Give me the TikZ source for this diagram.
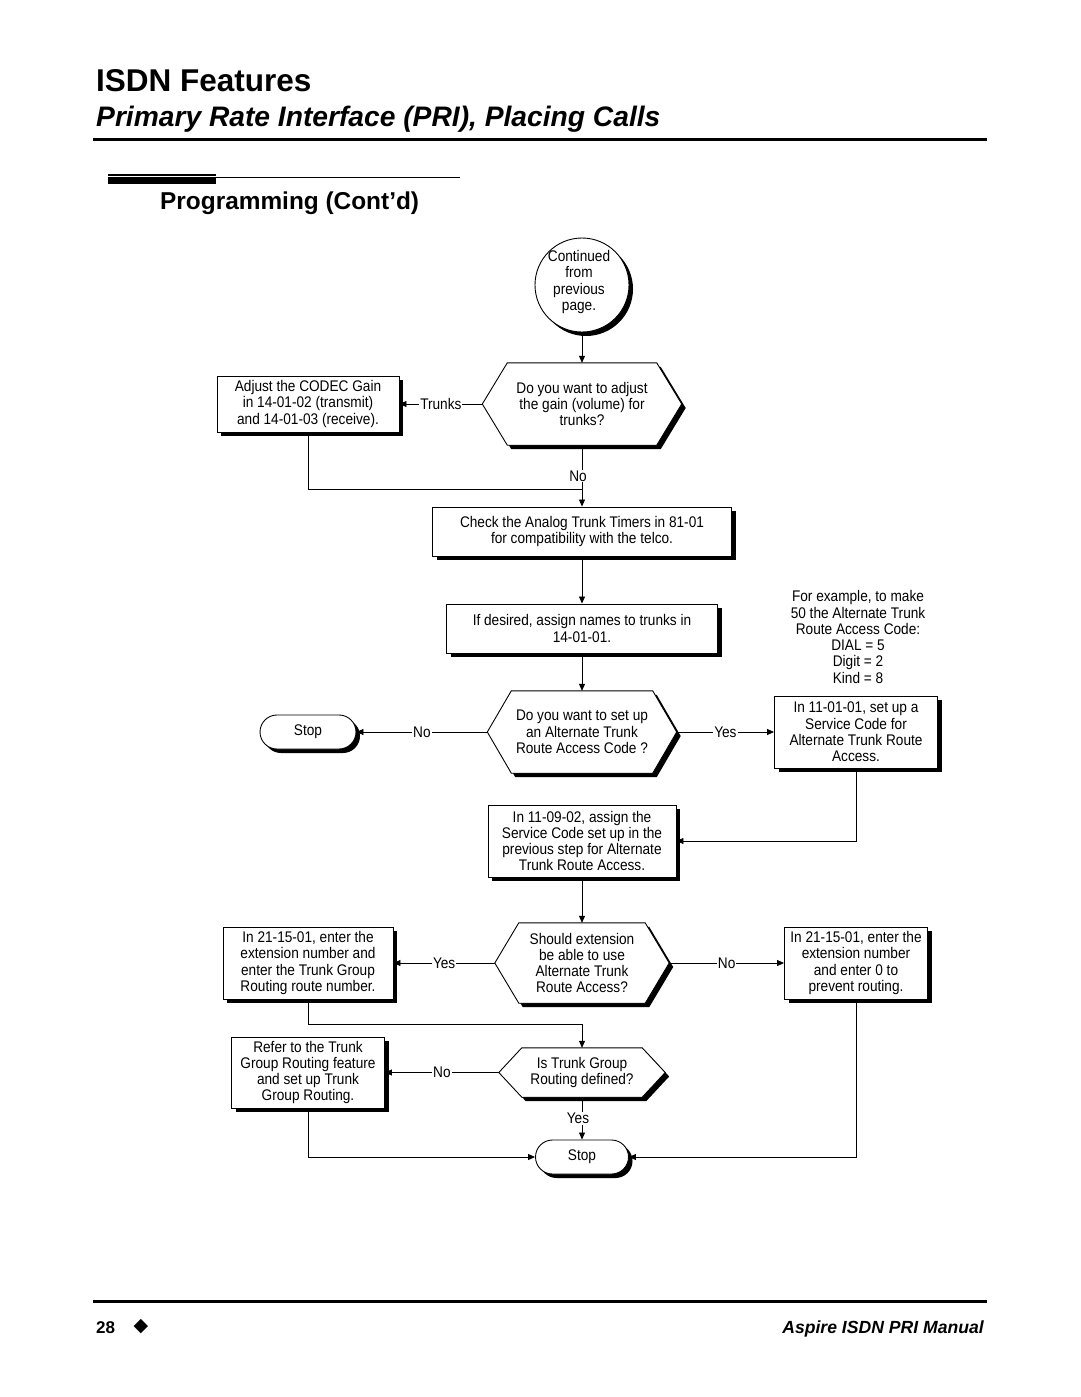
\documentclass[tikz,border=0pt]{standalone}
\usepackage{fontspec}
\setmainfont{Liberation Sans}
\newfontfamily\bodyfont[FakeStretch=0.886]{Liberation Sans}
\newfontfamily\dvsans{DejaVu Sans}
\usetikzlibrary{arrows.meta,shapes.misc,shadows,backgrounds}

\newcommand\hexoutline[3]{%
 ([shift={(#3pt,-#3pt)}]#1.west) --
 ([shift={(#2pt+#3pt,-#3pt)}]#1.north west) --
 ([shift={(-#2pt+#3pt,-#3pt)}]#1.north east) --
 ([shift={(#3pt,-#3pt)}]#1.east) --
 ([shift={(-#2pt+#3pt,-#3pt)}]#1.south east) --
 ([shift={(#2pt+#3pt,-#3pt)}]#1.south west) -- cycle}

\tikzset{
 every node/.style={font=\bodyfont\fontsize{15.4}{16.3}\selectfont},
 shd/.style={drop shadow={shadow xshift=4pt,shadow yshift=-4pt,fill=black,opacity=1}},
 box/.style={draw=black,line width=0.9pt,fill=white,rectangle,align=center,inner sep=0pt,shd},
 term/.style={draw=black,line width=0.9pt,fill=white,rounded rectangle,inner sep=0pt,shd},
 hexa/.style={rectangle,align=center,inner sep=0pt},
 conn/.style={line width=0.8pt,-{Triangle[length=7pt,width=6pt]}},
 plain/.style={line width=0.8pt},
 lbl/.style={fill=white,inner sep=1pt},
}

\begin{document}
\begin{tikzpicture}[x=1pt,y=-1pt]
\useasboundingbox (0,0) rectangle (1080,1397);

% header
\node[anchor=base west,inner sep=0pt,font=\rmfamily\fontsize{31.5}{36}\selectfont\bfseries] (title) at (96,91) {ISDN Features};
\node[anchor=base west,inner sep=0pt,font=\rmfamily\fontsize{28.2}{32}\selectfont\bfseries\itshape] (subtitle) at (96,126) {Primary Rate Interface (PRI), Placing Calls};
\fill (93,137.5) rectangle (987,140.5);
\fill (108,174) rectangle (216,176);
\fill (108,177.3) rectangle (216,184);
\draw[line width=0.9pt] (216,177.3) -- (460,177.3);
\node[anchor=base west,inner sep=0pt,font=\rmfamily\fontsize{24.4}{28}\selectfont\bfseries] (section) at (160,209) {Programming (Cont'd)};

% footer
\fill (93,1299.5) rectangle (987,1302.5);
\node[anchor=base west,inner sep=0pt,font=\rmfamily\fontsize{17}{20}\selectfont\bfseries] (pagenum) at (96,1333) {28};
\node[inner sep=0pt,font=\dvsans\fontsize{19}{20}\selectfont] (diam) at (141,1327) {◆};
\node[anchor=base east,inner sep=0pt,font=\rmfamily\fontsize{17.6}{20}\selectfont\bfseries\itshape] (manual) at (984,1333) {Aspire ISDN PRI Manual};

% flowchart nodes
\node[circle,draw=black,line width=0.9pt,fill=white,minimum size=94pt,inner sep=0pt,shd] (c1) at (582,285) {};
\node[align=center,inner sep=0pt] (c1t) at (579,282) {Continued\\from\\previous\\page.};

\node[hexa,minimum width=199pt,minimum height=82pt] (h1) at (582,404) {Do you want to adjust\\the gain (volume) for\\trunks?};
\node[box,minimum width=182pt,minimum height=56pt] (adj) at (308,404) {Adjust the CODEC Gain\\in 14-01-02 (transmit)\\and 14-01-03 (receive).};
\node[box,minimum width=299pt,minimum height=49pt] (chk) at (582,531.5) {Check the Analog Trunk Timers in 81-01\\for compatibility with the telco.};
\node[box,minimum width=271pt,minimum height=49pt] (nam) at (582,628.5) {If desired, assign names to trunks in\\14-01-01.};
\node[align=center,inner sep=0pt] (note) at (858,637) {For example, to make\\50 the Alternate Trunk\\Route Access Code:\\DIAL = 5\\Digit = 2\\Kind = 8};
\node[hexa,minimum width=189pt,minimum height=82pt] (h2) at (582,732) {Do you want to set up\\an Alternate Trunk\\Route Access Code ?};
\node[term,minimum width=96pt,minimum height=34pt] (stop1) at (308,732) {Stop};
\node[box,minimum width=163pt,minimum height=72pt] (svc) at (856,732) {In 11-01-01, set up a\\Service Code for\\Alternate Trunk Route\\Access.};
\node[box,minimum width=188pt,minimum height=72pt] (asg) at (582,841) {In 11-09-02, assign the\\Service Code set up in the\\previous step for Alternate\\Trunk Route Access.};
\node[hexa,minimum width=174pt,minimum height=80pt] (h3) at (582,963) {Should extension\\be able to use\\Alternate Trunk\\Route Access?};
\node[box,minimum width=170pt,minimum height=72pt] (ext) at (308,963) {In 21-15-01, enter the\\extension number and\\enter the Trunk Group\\Routing route number.};
\node[box,minimum width=143pt,minimum height=72pt] (prv) at (856,963) {In 21-15-01, enter the\\extension number\\and enter 0 to\\prevent routing.};
\node[hexa,minimum width=166pt,minimum height=49pt] (h4) at (582,1072.5) {Is Trunk Group\\Routing defined?};
\node[box,minimum width=153pt,minimum height=71pt] (ref) at (308,1072.5) {Refer to the Trunk\\Group Routing feature\\and set up Trunk\\Group Routing.};
\node[term,minimum width=93pt,minimum height=34pt] (stop2) at (582,1157) {Stop};

% hexagon outlines with shadows
\begin{scope}[on background layer]
\foreach \hn/\hd in {h1/25,h2/24,h3/24,h4/23}{
  \fill[black] \hexoutline{\hn}{\hd}{4};
  \filldraw[fill=white,draw=black,line width=0.9pt] \hexoutline{\hn}{\hd}{0};
}
\end{scope}

% junction coordinates
\coordinate (j1) at (582,489);
\coordinate (j2) at (582,1024);

% connectors
\draw[conn] (c1) -- (h1.north);
\draw[conn] (h1.west) -- node[lbl]{Trunks} (adj.east);
\draw[conn] (h1.south) -- node[lbl,xshift=-4pt]{No} (chk.north);
\draw[plain] (adj.south) |- (j1);
\draw[conn] (chk.south) -- (nam.north);
\draw[conn] (nam.south) -- (h2.north);
\draw[conn] (h2.west) -- node[lbl]{No} (stop1.east);
\draw[conn] (h2.east) -- node[lbl]{Yes} (svc.west);
\draw[conn] (svc.south) |- (asg.east);
\draw[conn] (asg.south) -- (h3.north);
\draw[conn] (h3.west) -- node[lbl]{Yes} (ext.east);
\draw[conn] (h3.east) -- node[lbl]{No} (prv.west);
\draw[plain] (ext.south) |- (j2);
\draw[conn] (j2) -- (h4.north);
\draw[conn] (h4.west) -- node[lbl]{No} (ref.east);
\draw[conn] (h4.south) -- node[lbl,xshift=-4pt]{Yes} (stop2.north);
\draw[conn] (ref.south) |- (stop2.west);
\draw[conn] (prv.south) |- (stop2.east);
\end{tikzpicture}
\end{document}
